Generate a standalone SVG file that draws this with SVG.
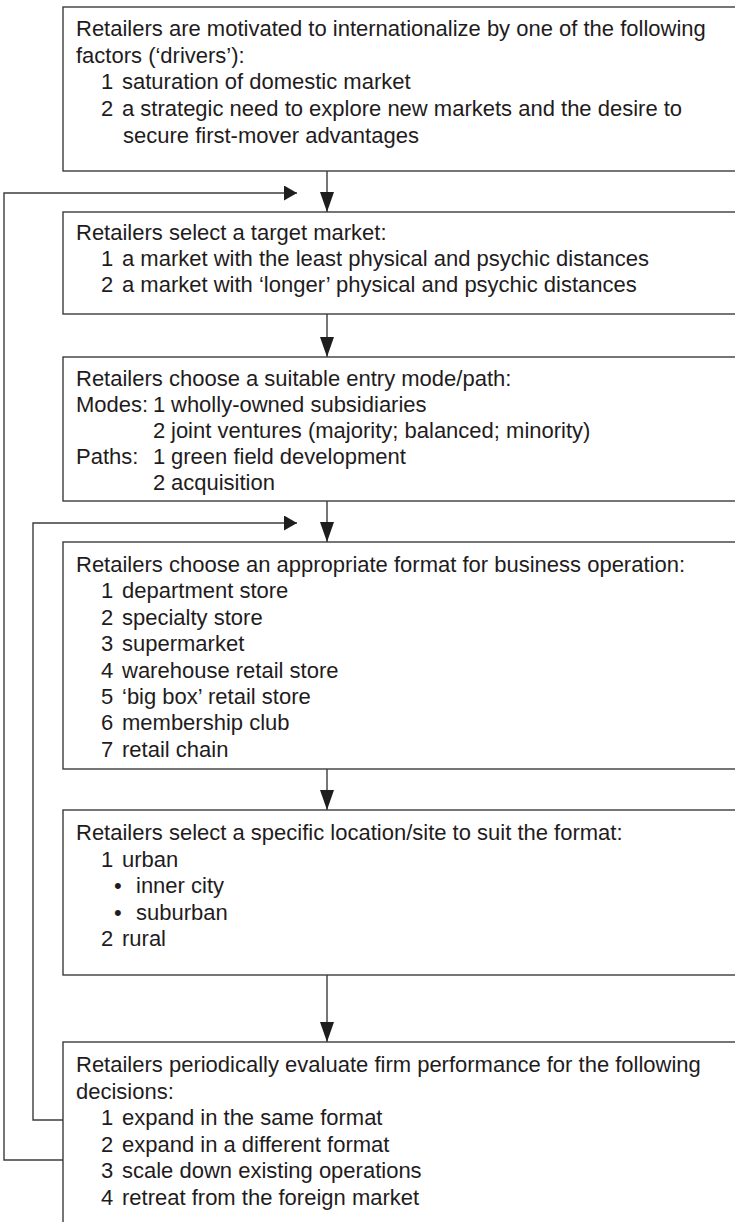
<svg xmlns="http://www.w3.org/2000/svg" width="735" height="1222" viewBox="0 0 735 1222">
  <style>
    .box { fill: #ffffff; stroke: #3c3c3c; stroke-width: 1.4; }
    .line { fill: none; stroke: #3c3c3c; stroke-width: 1.4; }
    .head { fill: #1e1e1e; stroke: none; }
    text { font-family: "Liberation Sans", Arial, Helvetica, sans-serif; font-size: 22px; fill: #1f1c1d; }
  </style>
  <defs>
    <marker id="arrowDown" markerUnits="userSpaceOnUse" markerWidth="14" markerHeight="20" refX="7" refY="20" orient="0" viewBox="0 0 14 20">
      <polygon class="head" points="0,0 14,0 7,20"/>
    </marker>
    <marker id="arrowRight" markerUnits="userSpaceOnUse" markerWidth="13" markerHeight="15" refX="13" refY="7.5" orient="0" viewBox="0 0 13 15">
      <polygon class="head" points="0,0 13,7.5 0,15"/>
    </marker>
  </defs>

  <rect width="735" height="1222" fill="#ffffff"/>

  <!-- flow connectors and feedback loops -->
  <g id="connectors">
    <line class="line" x1="327" y1="171" x2="327" y2="212" marker-end="url(#arrowDown)"/>
    <line class="line" x1="327" y1="314" x2="327" y2="357" marker-end="url(#arrowDown)"/>
    <line class="line" x1="327" y1="501" x2="327" y2="542" marker-end="url(#arrowDown)"/>
    <line class="line" x1="327" y1="769" x2="327" y2="810" marker-end="url(#arrowDown)"/>
    <line class="line" x1="327" y1="975" x2="327" y2="1042" marker-end="url(#arrowDown)"/>
    <!-- scale down: back to target market selection -->
    <polyline class="line" points="91,1160 4,1160 4,193 297,193" marker-end="url(#arrowRight)"/>
    <!-- expand in the same format: back to format choice -->
    <polyline class="line" points="91,1120 33,1120 33,523 297,523" marker-end="url(#arrowRight)"/>
  </g>

  <g id="drivers">
    <rect class="box" x="63" y="7" width="690" height="164"/>
    <text x="76" y="36">Retailers are motivated to internationalize by one of the following</text>
    <text x="76" y="63">factors (‘drivers’):</text>
    <text y="89"><tspan x="101">1</tspan><tspan x="122">saturation of domestic market</tspan></text>
    <text y="116"><tspan x="101">2</tspan><tspan x="122">a strategic need to explore new markets and the desire to</tspan></text>
    <text x="123" y="143">secure first-mover advantages</text>
  </g>

  <g id="target-market">
    <rect class="box" x="63" y="212" width="690" height="102"/>
    <text x="76" y="240">Retailers select a target market:</text>
    <text y="266"><tspan x="101">1</tspan><tspan x="122">a market with the least physical and psychic distances</tspan></text>
    <text y="292"><tspan x="101">2</tspan><tspan x="122">a market with ‘longer’ physical and psychic distances</tspan></text>
  </g>

  <g id="entry-mode">
    <rect class="box" x="63" y="357" width="690" height="144"/>
    <text x="76" y="386">Retailers choose a suitable entry mode/path:</text>
    <text y="412"><tspan x="76">Modes:</tspan><tspan x="153">1</tspan><tspan x="171">wholly-owned subsidiaries</tspan></text>
    <text y="438"><tspan x="153">2</tspan><tspan x="171">joint ventures (majority; balanced; minority)</tspan></text>
    <text y="464"><tspan x="76">Paths:</tspan><tspan x="153">1</tspan><tspan x="171">green field development</tspan></text>
    <text y="490"><tspan x="153">2</tspan><tspan x="171">acquisition</tspan></text>
  </g>

  <g id="format">
    <rect class="box" x="63" y="542" width="690" height="227"/>
    <text x="76" y="572">Retailers choose an appropriate format for business operation:</text>
    <text y="598.4"><tspan x="101">1</tspan><tspan x="122">department store</tspan></text>
    <text y="624.8"><tspan x="101">2</tspan><tspan x="122">specialty store</tspan></text>
    <text y="651.2"><tspan x="101">3</tspan><tspan x="122">supermarket</tspan></text>
    <text y="677.6"><tspan x="101">4</tspan><tspan x="122">warehouse retail store</tspan></text>
    <text y="704"><tspan x="101">5</tspan><tspan x="122">‘big box’ retail store</tspan></text>
    <text y="730.4"><tspan x="101">6</tspan><tspan x="122">membership club</tspan></text>
    <text y="756.8"><tspan x="101">7</tspan><tspan x="122">retail chain</tspan></text>
  </g>

  <g id="location">
    <rect class="box" x="63" y="810" width="690" height="165"/>
    <text x="76" y="840">Retailers select a specific location/site to suit the format:</text>
    <text y="866.5"><tspan x="101">1</tspan><tspan x="122">urban</tspan></text>
    <text y="893"><tspan x="114">•</tspan><tspan x="136">inner city</tspan></text>
    <text y="919.5"><tspan x="114">•</tspan><tspan x="136">suburban</tspan></text>
    <text y="946"><tspan x="101">2</tspan><tspan x="122">rural</tspan></text>
  </g>

  <g id="evaluation">
    <rect class="box" x="63" y="1042" width="690" height="200"/>
    <text x="76" y="1072">Retailers periodically evaluate firm performance for the following</text>
    <text x="76" y="1098.5">decisions:</text>
    <text y="1125"><tspan x="101">1</tspan><tspan x="122">expand in the same format</tspan></text>
    <text y="1151.5"><tspan x="101">2</tspan><tspan x="122">expand in a different format</tspan></text>
    <text y="1178"><tspan x="101">3</tspan><tspan x="122">scale down existing operations</tspan></text>
    <text y="1204.5"><tspan x="101">4</tspan><tspan x="122">retreat from the foreign market</tspan></text>
  </g>
</svg>
